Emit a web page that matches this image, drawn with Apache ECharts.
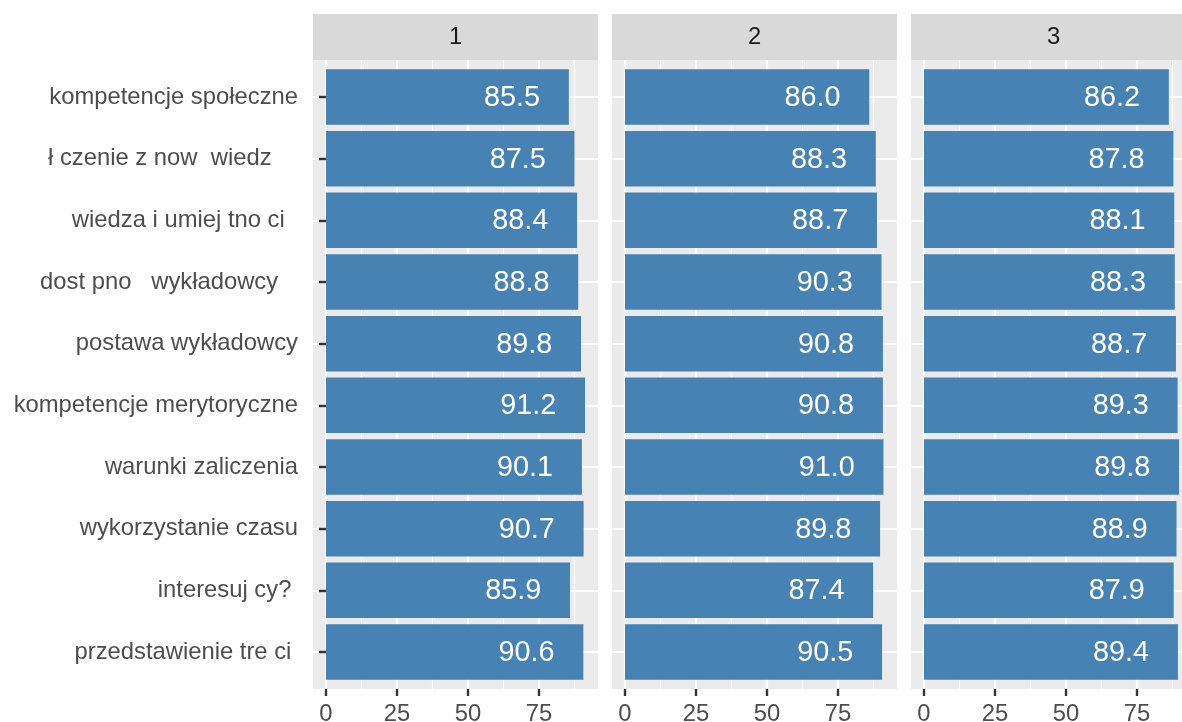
<!DOCTYPE html>
<html>
<head>
<meta charset="utf-8">
<style>
html, body { margin:0; padding:0; overflow:hidden; background:#fff; }
#chart { width:1197px; height:722px; }
</style>
<script src="https://cdn.jsdelivr.net/npm/echarts@6/dist/echarts.min.js"></script>
</head>
<body>
<div id="chart"></div>
<script>
// ---- data ----
const categories = [
  "kompetencje społeczne",
  "ł czenie z now  wiedz    ",
  "wiedza i umiej tno ci  ",
  "dost pno   wykładowcy   ",
  "postawa wykładowcy",
  "kompetencje merytoryczne",
  "warunki zaliczenia",
  "wykorzystanie czasu",
  "interesuj cy? ",
  "przedstawienie tre ci "
];
const panels = ["1", "2", "3"];
const values1 = [85.5, 87.5, 88.4, 88.8, 89.8, 91.2, 90.1, 90.7, 85.9, 90.6];
const values2 = [86.0, 88.3, 88.7, 90.3, 90.8, 90.8, 91.0, 89.8, 87.4, 90.5];
const values3 = [86.2, 87.8, 88.1, 88.3, 88.7, 89.3, 89.8, 88.9, 87.9, 89.4];
const xTicks = [0, 25, 50, 75];
const xMinorTicks = [12.5, 37.5, 62.5, 87.5];

const allValues = [values1, values2, values3];

// ---- layout ----
const FONT = "Liberation Sans";
const AXIS_FS = 23.8;
const panelLeft0 = 313, panelStep = 299, panelW = 285, panelTop = 60, panelH = 629;
const maxV = Math.max(...allValues.flat());
const xMin = -0.05 * maxV, xMax = maxV * 1.05;
const yPos = categories.map((c, i) => i + 1);

const grids = [], xAxes = [], yAxes = [], series = [], graphics = [];
panels.forEach((p, k) => {
  const left = panelLeft0 + k * panelStep;
  grids.push({ left: left, top: panelTop, width: panelW, height: panelH, show: true,
    backgroundColor: '#EBEBEB', borderWidth: 0, containLabel: false, outerBoundsMode: 'none' });
  // major x axis (bottom)
  xAxes.push({ type: 'value', gridIndex: k, min: xMin, max: xMax, position: 'bottom',
    axisLine: { show: false },
    axisTick: { show: true, customValues: xTicks, length: 7, lineStyle: { color: '#333333', width: 2.4 } },
    axisLabel: { show: true, customValues: xTicks, margin: 13, color: '#4D4D4D', fontFamily: FONT, fontSize: AXIS_FS },
    splitLine: { show: true, lineStyle: { color: '#FFFFFF', width: 2.2 } }
  });
  // minor x grid lines
  xAxes.push({ type: 'value', gridIndex: k, min: xMin, max: xMax, position: 'top',
    axisLine: { show: false },
    axisTick: { show: false, customValues: xMinorTicks },
    axisLabel: { show: false, customValues: xMinorTicks },
    splitLine: { show: true, lineStyle: { color: '#FFFFFF', width: 1.1 } }
  });
  yAxes.push({ type: 'value', gridIndex: k, min: 0.4, max: 10.6, inverse: true,
    axisLine: { show: false },
    axisTick: { show: k === 0, customValues: yPos, length: 7, lineStyle: { color: '#333333', width: 2.4 } },
    axisLabel: { show: k === 0, customValues: yPos, margin: 15, color: '#4D4D4D', fontFamily: FONT, fontSize: AXIS_FS,
      formatter: v => categories[Math.round(v) - 1] || '' },
    splitLine: { show: true, lineStyle: { color: '#FFFFFF', width: 2.2 } }
  });
  series.push({
    type: 'custom', xAxisIndex: k * 2, yAxisIndex: k,
    data: allValues[k].map((v, i) => [v, yPos[i]]),
    renderItem: function (params, api) {
      const v = api.value(0), y = api.value(1);
      const s = api.coord([0, y]);
      const e = api.coord([v, y]);
      const h = api.size([0, 0.9])[1];
      const t = api.coord([v - 20, y]);
      return { type: 'group', children: [
        { type: 'rect', shape: { x: s[0], y: s[1] - h / 2, width: e[0] - s[0], height: h },
          style: { fill: '#4682B4' } },
        { type: 'text', x: t[0], y: t[1] + 1,
          style: { text: v.toFixed(1), fill: '#FFFFFF', font: '28.8px "' + FONT + '"', align: 'center', verticalAlign: 'middle' } }
      ] };
    }
  });
  graphics.push({ type: 'rect', left: left, top: 14, shape: { width: panelW, height: 46 }, style: { fill: '#D9D9D9' } });
  graphics.push({ type: 'text', x: left + panelW / 2, y: 37,
    style: { text: p, fill: '#1A1A1A', font: AXIS_FS + 'px "' + FONT + '"', align: 'center', verticalAlign: 'middle' } });
});

const chart = echarts.init(document.getElementById('chart'), null, { renderer: 'canvas' });
chart.setOption({
  animation: false,
  backgroundColor: '#FFFFFF',
  grid: grids, xAxis: xAxes, yAxis: yAxes, series: series, graphic: graphics
});
</script>
</body>
</html>
